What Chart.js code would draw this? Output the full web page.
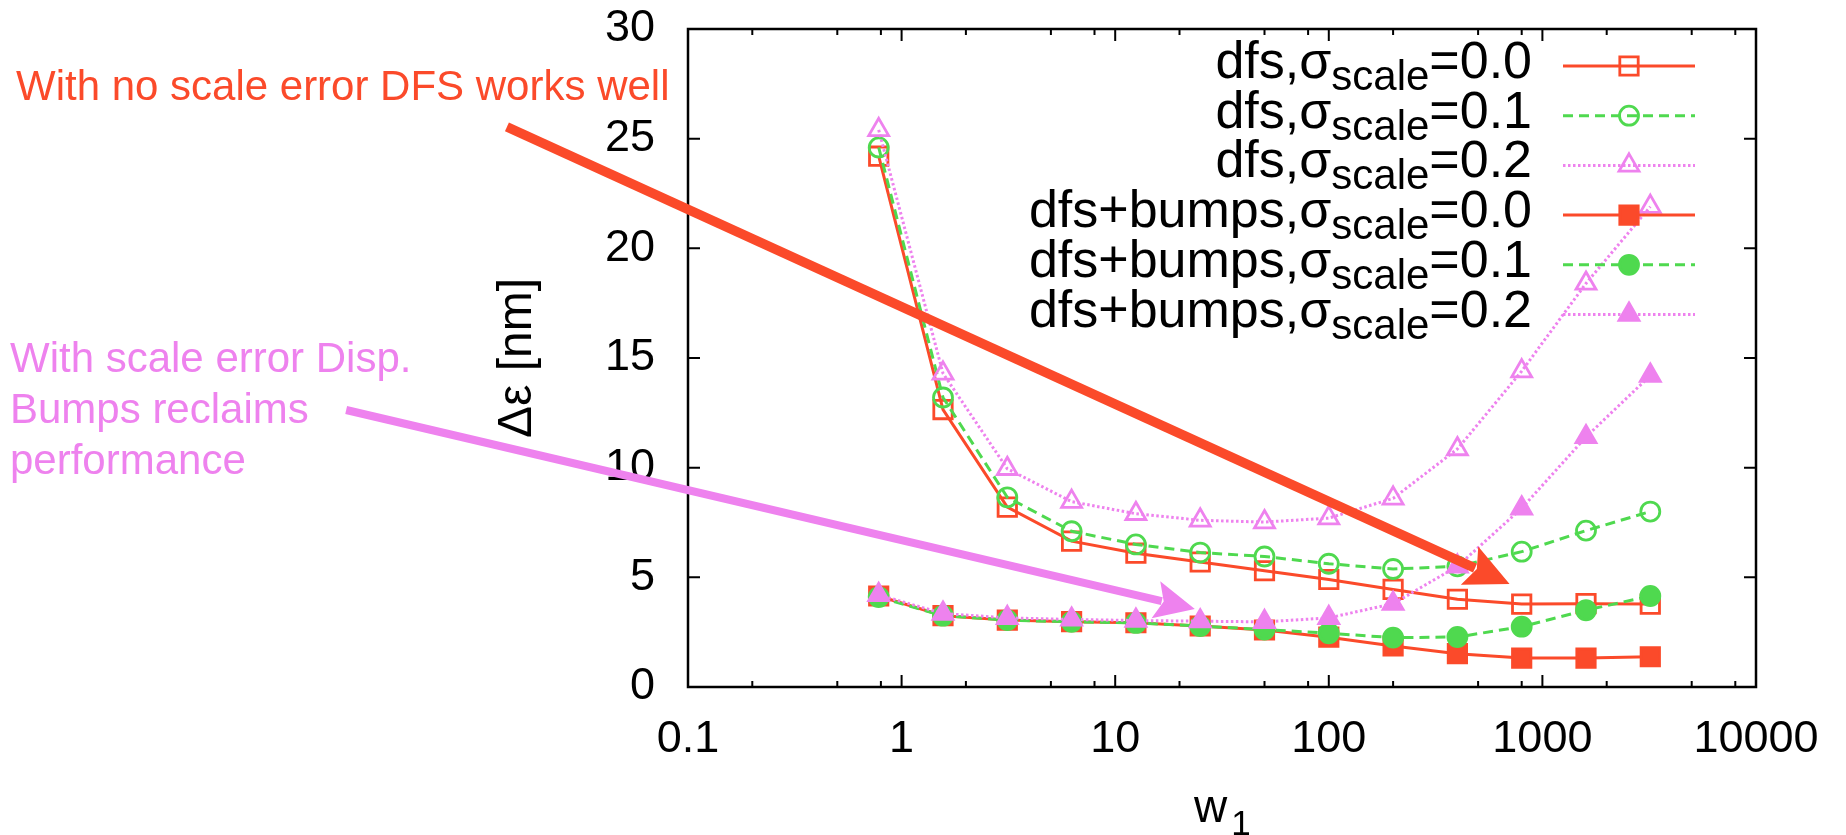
<!DOCTYPE html>
<html>
<head>
<meta charset="utf-8">
<title>dfs vs dfs+bumps</title>
<script src="https://cdn.jsdelivr.net/npm/chart.js@4.4.1/dist/chart.umd.min.js"></script>
<style>
  html, body { margin: 0; padding: 0; background: #fff; }
  canvas { display: block; }
</style>
</head>
<body>
<canvas id="chart" width="1846" height="835"></canvas>
<script>
// ---- data ----------------------------------------------------------
// weight w1 sweep (doubling steps) and resulting Δε in nm
const w1Values = [0.78125, 1.5625, 3.125, 6.25, 12.5, 25, 50, 100, 200, 400, 800, 1600, 3200];

const dfsSigma00    = [24.2, 12.65, 8.2, 6.65, 6.1, 5.7, 5.3, 4.9, 4.45, 4.0, 3.78, 3.8, 3.78];
const dfsSigma01    = [24.6, 13.2, 8.65, 7.1, 6.5, 6.13, 5.95, 5.62, 5.38, 5.5, 6.17, 7.13, 8.0];
const dfsSigma02    = [25.4, 14.3, 9.95, 8.45, 7.9, 7.6, 7.52, 7.7, 8.6, 10.85, 14.4, 18.4, 21.9];
const bumpsSigma00  = [4.15, 3.25, 3.05, 2.98, 2.93, 2.78, 2.6, 2.27, 1.87, 1.52, 1.32, 1.32, 1.38];
const bumpsSigma01  = [4.1, 3.25, 3.05, 2.97, 2.92, 2.78, 2.62, 2.45, 2.25, 2.28, 2.75, 3.5, 4.15];
const bumpsSigma02  = [4.2, 3.35, 3.15, 3.08, 3.03, 3.0, 2.97, 3.15, 3.8, 5.5, 8.15, 11.4, 14.2];

const seriesMethods = ['dfs', 'dfs', 'dfs', 'dfs+bumps', 'dfs+bumps', 'dfs+bumps'];
const seriesSigmas  = ['0.0', '0.1', '0.2', '0.0', '0.1', '0.2'];

const xTickValues  = [0.1, 1, 10, 100, 1000, 10000];
const xMinorTicks  = [0.2, 0.5, 0.8, 2, 5, 8, 20, 50, 80, 200, 500, 800, 2000, 5000, 8000];
const yTickStep    = 5;

// callouts (arrow ends in data units)
const noteRedLines    = ['With no scale error DFS works well'];
const noteVioletLines = ['With scale error Disp.', 'Bumps reclaims', 'performance'];
const arrowRedFrom    = [0.0142, 25.54];
const arrowRedTo      = [702, 4.70];
const arrowVioletFrom = [0.00251, 12.63];
const arrowVioletTo   = [23.6, 3.56];

// ---- styling -------------------------------------------------------
const RED = '#fb4a2a', GREEN = '#4fd94f', VIOLET = '#ee82ee';
const FONT = "'Liberation Sans', Arial, Helvetica, sans-serif";

const seriesStyles = [
  { color: RED,    dash: [],         shape: 'rect',     r: 13,   filled: false },
  { color: GREEN,  dash: [10, 6],    shape: 'circle',   r: 9.5,  filled: false },
  { color: VIOLET, dash: [2.5, 2.5], shape: 'triangle', r: 11.5, filled: false },
  { color: RED,    dash: [],         shape: 'rect',     r: 13,   filled: true },
  { color: GREEN,  dash: [10, 6],    shape: 'circle',   r: 9.5,  filled: true },
  { color: VIOLET, dash: [2.5, 2.5], shape: 'triangle', r: 11.5, filled: true }
];

const seriesValues = [dfsSigma00, dfsSigma01, dfsSigma02, bumpsSigma00, bumpsSigma01, bumpsSigma02];

const datasets = seriesValues.map((vals, i) => {
  const st = seriesStyles[i];
  return {
    label: seriesMethods[i] + ',σscale=' + seriesSigmas[i],
    data: vals.map((v, k) => ({ x: w1Values[k], y: v })),
    borderColor: st.color,
    borderWidth: 3,
    borderDash: st.dash,
    pointStyle: st.shape,
    pointRadius: st.r,
    pointHoverRadius: st.r,
    pointBorderWidth: 2.8,
    pointBorderColor: st.color,
    pointBackgroundColor: st.filled ? st.color : 'rgba(0,0,0,0)',
    tension: 0,
    fill: false,
    clip: false,
    order: -i   // later series sit on top
  };
});

// same geometry Chart.js uses for its point styles
function drawMarker(ctx, shape, x, y, r) {
  ctx.beginPath();
  if (shape === 'rect') {
    const s = r * Math.SQRT1_2;
    ctx.rect(x - s, y - s, 2 * s, 2 * s);
  } else if (shape === 'circle') {
    ctx.arc(x, y, r, 0, Math.PI * 2);
  } else {
    let a = 0;
    ctx.moveTo(x + Math.sin(a) * r, y - Math.cos(a) * r);
    a += Math.PI * 2 / 3;
    ctx.lineTo(x + Math.sin(a) * r, y - Math.cos(a) * r);
    a += Math.PI * 2 / 3;
    ctx.lineTo(x + Math.sin(a) * r, y - Math.cos(a) * r);
    ctx.closePath();
  }
}

function drawArrow(ctx, x0, y0, x1, y1, color, width, headLen, headHalf) {
  const dx = x1 - x0, dy = y1 - y0;
  const len = Math.hypot(dx, dy);
  const ux = dx / len, uy = dy / len;
  const bx = x1 - ux * headLen, by = y1 - uy * headLen;
  ctx.save();
  ctx.strokeStyle = color;
  ctx.fillStyle = color;
  ctx.lineWidth = width;
  ctx.lineCap = 'butt';
  ctx.beginPath();
  ctx.moveTo(x0, y0);
  ctx.lineTo(bx + ux * 6, by + uy * 6);
  ctx.stroke();
  ctx.beginPath();
  ctx.moveTo(x1, y1);
  ctx.lineTo(bx - uy * headHalf, by + ux * headHalf);
  ctx.lineTo(bx + ux * 8, by + uy * 8);
  ctx.lineTo(bx + uy * headHalf, by - ux * headHalf);
  ctx.closePath();
  ctx.fill();
  ctx.restore();
}

// border box with inward ticks on all four sides
const frame = {
  id: 'frame',
  beforeDatasetsDraw(chart) {
    const { ctx, chartArea: a, scales: { x, y } } = chart;
    ctx.save();
    ctx.strokeStyle = '#000';
    ctx.lineWidth = 2;
    ctx.beginPath();
    xTickValues.forEach(v => {
      const px = x.getPixelForValue(v);
      ctx.moveTo(px, a.bottom); ctx.lineTo(px, a.bottom - 12);
      ctx.moveTo(px, a.top);    ctx.lineTo(px, a.top + 12);
    });
    xMinorTicks.forEach(v => {
      const px = x.getPixelForValue(v);
      ctx.moveTo(px, a.bottom); ctx.lineTo(px, a.bottom - 6);
      ctx.moveTo(px, a.top);    ctx.lineTo(px, a.top + 6);
    });
    y.ticks.forEach(t => {
      const py = y.getPixelForValue(t.value);
      ctx.moveTo(a.left, py);  ctx.lineTo(a.left + 12, py);
      ctx.moveTo(a.right, py); ctx.lineTo(a.right - 12, py);
    });
    ctx.stroke();
    ctx.lineWidth = 2.5;
    ctx.strokeRect(a.left, a.top, a.right - a.left, a.bottom - a.top);
    ctx.restore();
  }
};

// key, axis titles and callouts
const overlay = {
  id: 'overlay',
  afterDraw(chart) {
    const { ctx, chartArea: a, scales: { x, y } } = chart;
    ctx.save();

    // key in the upper right
    const textRight = a.right - 224;
    const lineL = a.right - 193, lineR = a.right - 61, markX = a.right - 127;
    seriesStyles.forEach((st, i) => {
      const rowY = a.top + 37 + i * 49.7;
      ctx.save();
      ctx.strokeStyle = st.color;
      ctx.lineWidth = 3;
      ctx.setLineDash(st.dash);
      ctx.beginPath();
      ctx.moveTo(lineL, rowY); ctx.lineTo(lineR, rowY);
      ctx.stroke();
      ctx.setLineDash([]);
      ctx.lineWidth = 2.8;
      drawMarker(ctx, st.shape, markX, rowY, st.r);
      if (st.filled) { ctx.fillStyle = st.color; ctx.fill(); }
      ctx.stroke();
      ctx.restore();

      const head = seriesMethods[i] + ',σ', sub = 'scale', tail = '=' + seriesSigmas[i];
      const mainFont = '52px ' + FONT, subFont = '42px ' + FONT;
      ctx.font = mainFont;
      const wHead = ctx.measureText(head).width, wTail = ctx.measureText(tail).width;
      ctx.font = subFont;
      const wSub = ctx.measureText(sub).width;
      let tx = textRight - (wHead + wSub + wTail);
      const base = rowY + 12;
      ctx.fillStyle = '#000';
      ctx.textAlign = 'left';
      ctx.textBaseline = 'alphabetic';
      ctx.font = mainFont; ctx.fillText(head, tx, base); tx += wHead;
      ctx.font = subFont;  ctx.fillText(sub, tx, base + 12); tx += wSub;
      ctx.font = mainFont; ctx.fillText(tail, tx, base);
    });

    // axis titles
    ctx.fillStyle = '#000';
    ctx.save();
    ctx.translate(a.left - 170, (a.top + a.bottom) / 2);
    ctx.rotate(-Math.PI / 2);
    ctx.textAlign = 'center';
    ctx.textBaseline = 'middle';
    ctx.font = '48px ' + FONT;
    ctx.fillText('Δε [nm]', 0, 0);
    ctx.restore();

    ctx.textAlign = 'left';
    ctx.textBaseline = 'alphabetic';
    ctx.font = '46px ' + FONT;
    const wW = ctx.measureText('w').width;
    const wx = (a.left + a.right) / 2 - 28;
    ctx.fillText('w', wx, a.bottom + 135);
    ctx.font = '35px ' + FONT;
    ctx.fillText('1', wx + wW + 4, a.bottom + 148);

    // callout texts
    ctx.font = '42px ' + FONT;
    ctx.fillStyle = RED;
    noteRedLines.forEach((t, k) => ctx.fillText(t, 16, 100 + k * 51));
    ctx.fillStyle = VIOLET;
    noteVioletLines.forEach((t, k) => ctx.fillText(t, 10, 372 + k * 51));

    // callout arrows
    drawArrow(ctx,
      x.getPixelForValue(arrowRedFrom[0]), y.getPixelForValue(arrowRedFrom[1]),
      x.getPixelForValue(arrowRedTo[0]), y.getPixelForValue(arrowRedTo[1]),
      RED, 9.5, 44, 21);
    drawArrow(ctx,
      x.getPixelForValue(arrowVioletFrom[0]), y.getPixelForValue(arrowVioletFrom[1]),
      x.getPixelForValue(arrowVioletTo[0]), y.getPixelForValue(arrowVioletTo[1]),
      VIOLET, 8, 40, 19);

    ctx.restore();
  }
};

const tickFont = { family: FONT, size: 45 };

// keep the plot box exactly where the layout padding puts it
function noEdgePadding(s) {
  s.paddingTop = 0; s.paddingBottom = 0; s.paddingLeft = 0; s.paddingRight = 0;
}

new Chart(document.getElementById('chart'), {
  type: 'line',
  data: { datasets },
  options: {
    responsive: false,
    devicePixelRatio: 1,
    animation: false,
    layout: { padding: { left: 0, right: 90, top: 29, bottom: 0 } },
    plugins: { legend: { display: false }, tooltip: { enabled: false } },
    scales: {
      x: {
        type: 'logarithmic',
        min: 0.1,
        max: 10000,
        afterBuildTicks: s => { s.ticks = xTickValues.map(v => ({ value: v })); },
        afterFit: s => { s.height = 148; noEdgePadding(s); },
        ticks: { callback: v => String(v), font: tickFont, color: '#000', padding: 26, maxRotation: 0, autoSkip: false },
        grid: { display: false, drawTicks: false },
        border: { display: false }
      },
      y: {
        min: 0,
        max: 30,
        afterFit: s => { s.width = 688; noEdgePadding(s); },
        ticks: { stepSize: yTickStep, font: tickFont, color: '#000', padding: 33 },
        grid: { display: false, drawTicks: false },
        border: { display: false }
      }
    }
  },
  plugins: [frame, overlay]
});
</script>
</body>
</html>
